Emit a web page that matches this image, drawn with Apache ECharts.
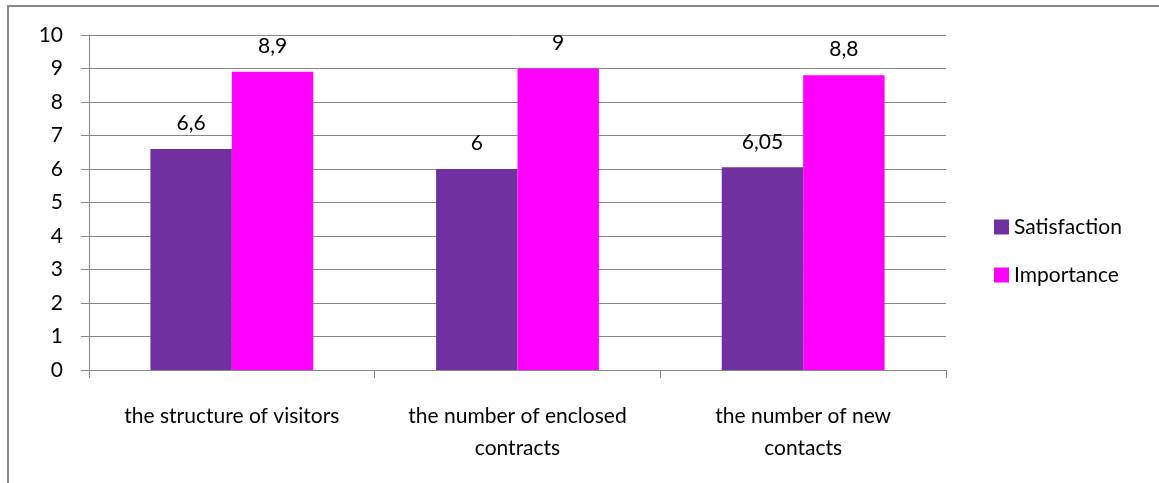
<!DOCTYPE html>
<html lang="en">
<head>
    <meta charset="UTF-8">
    <title>Satisfaction and importance</title>
    <script src="https://cdn.jsdelivr.net/npm/echarts@6/dist/echarts.min.js"></script>
    <style>
        html, body { margin: 0; padding: 0; background: #fff; }
        #chart { width: 1159px; height: 483px; }
    </style>
</head>
<body>
<div id="chart"></div>
<script type="text/javascript">
    var categories = ['the structure of visitors', 'the number of enclosed\ncontracts', 'the number of new\ncontacts'];
    var satisfaction = [6.6, 6, 6.05];
    var importance = [8.9, 9, 8.8];
    var seriesNames = ['Satisfaction', 'Importance'];

    var font = 'Lato, "Open Sans", sans-serif';
    var fs = 21;
    var grey = '#888888';

    // values are written with a comma in the original
    function comma(p) {
        return String(p.value).replace('.', ',');
    }

    var myChart = echarts.init(document.getElementById('chart'));

    var option = {
        animation: false,
        backgroundColor: '#fff',
        textStyle: {fontFamily: font},
        graphic: [{
            type: 'rect',
            shape: {x: 8, y: 6, width: 1170, height: 500},
            style: {fill: 'none', stroke: grey, lineWidth: 2},
            silent: true
        }],
        grid: {left: 89, right: 213, top: 35, bottom: 113},
        legend: {
            orient: 'vertical',
            left: 989,
            top: 211,
            icon: 'rect',
            itemWidth: 15,
            itemHeight: 15,
            itemGap: 26,
            textStyle: {fontSize: fs, color: '#000', fontFamily: font, lineHeight: 22},
            data: seriesNames
        },
        xAxis: {
            type: 'category',
            data: categories,
            axisLine: {lineStyle: {color: grey, width: 1}},
            axisTick: {show: true, length: 8, lineStyle: {color: grey}},
            axisLabel: {
                color: '#000', fontSize: fs, fontFamily: font,
                lineHeight: 32, margin: 30, interval: 0
            }
        },
        yAxis: {
            type: 'value',
            min: 0,
            max: 10,
            interval: 1,
            axisLine: {show: true, lineStyle: {color: grey, width: 1}},
            axisTick: {show: true, length: 8, inside: false, lineStyle: {color: grey}},
            splitLine: {lineStyle: {color: grey, width: 1}},
            axisLabel: {color: '#000', fontSize: fs, fontFamily: font, margin: 26}
        },
        series: [{
            name: seriesNames[0],
            type: 'bar',
            data: satisfaction,
            barGap: '0%',
            barCategoryGap: '43%',
            itemStyle: {color: '#7030A0'},
            label: {
                show: true, position: 'top', distance: 15,
                color: '#000', fontSize: fs, fontFamily: font, formatter: comma
            }
        }, {
            name: seriesNames[1],
            type: 'bar',
            data: importance,
            barGap: '0%',
            barCategoryGap: '43%',
            itemStyle: {color: '#FF00FF'},
            label: {
                show: true, position: 'top', distance: 15,
                color: '#000', fontSize: fs, fontFamily: font, formatter: comma
            }
        }]
    };

    myChart.setOption(option);
</script>
</body>
</html>
